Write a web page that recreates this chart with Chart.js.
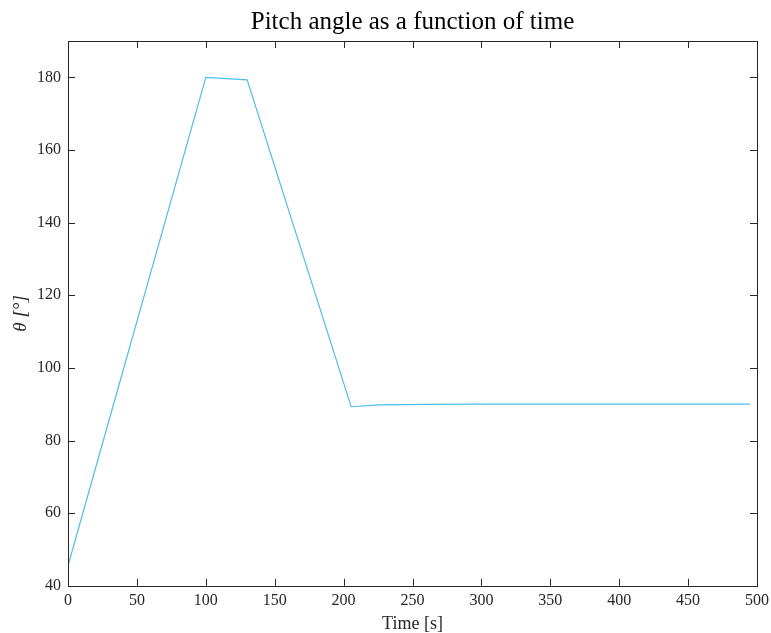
<!DOCTYPE html>
<html>
<head>
<meta charset="utf-8">
<script src="https://cdn.jsdelivr.net/npm/chart.js@4.4.1/dist/chart.umd.min.js"></script>
<style>
  html, body { margin: 0; padding: 0; background: #fff; }
  #wrap { width: 771px; height: 633px; }
</style>
</head>
<body>
<div id="wrap"><canvas id="pitch"></canvas></div>
<script>
var timeS = [0, 100, 130, 205.5, 226, 260, 300, 400, 495];
var pitchDeg = [45.5, 180, 179.3, 89.3, 89.8, 89.95, 90, 90, 90];
var xTicks = [0, 50, 100, 150, 200, 250, 300, 350, 400, 450, 500];
var yTicks = [40, 60, 80, 100, 120, 140, 160, 180];

var serif = "'Liberation Serif', 'DejaVu Serif', serif";

// matlab style box with inward ticks on all four sides
var boxTicks = {
    id: 'boxTicks',
    afterDraw: function(chart){
        var c = chart.ctx, a = chart.chartArea;
        var xs = chart.scales.x, ys = chart.scales.y, len = 7;
        c.save();
        c.strokeStyle = '#262626';
        c.lineWidth = 1;
        c.beginPath();
        xTicks.forEach(function(v){
            var px = Math.round(xs.getPixelForValue(v)) + 0.5;
            c.moveTo(px, a.bottom); c.lineTo(px, a.bottom - len);
            c.moveTo(px, a.top); c.lineTo(px, a.top + len);
        });
        yTicks.forEach(function(v){
            var py = Math.round(ys.getPixelForValue(v)) + 0.5;
            c.moveTo(a.left, py); c.lineTo(a.left + len, py);
            c.moveTo(a.right, py); c.lineTo(a.right - len, py);
        });
        c.stroke();
        c.strokeRect(Math.round(a.left) + 0.5, Math.round(a.top) + 0.5,
            Math.round(a.right - a.left), Math.round(a.bottom - a.top));
        c.restore();
    }
};

new Chart(document.getElementById('pitch'), {
    type: 'scatter',
    data: {
        datasets: [{
            data: timeS.map(function(t, i){ return {x: t, y: pitchDeg[i]}; }),
            showLine: true,
            borderColor: '#4DBEEE',
            borderWidth: 1.2,
            pointRadius: 0,
            tension: 0
        }]
    },
    options: {
        responsive: true,
        maintainAspectRatio: false,
        animation: false,
        layout: { padding: { left: 11, right: 14, top: 0, bottom: 0 } },
        plugins: {
            legend: { display: false },
            tooltip: { enabled: false },
            title: {
                display: true,
                fullSize: false,
                text: 'Pitch angle as a function of time',
                color: '#000',
                font: { family: serif, size: 25, weight: 'normal' },
                padding: { top: 7, bottom: 4 }
            }
        },
        scales: {
            x: {
                type: 'linear', min: 0, max: 500,
                afterBuildTicks: function(s){ s.ticks = xTicks.map(function(v){ return {value: v}; }); },
                afterFit: function(s){ s.paddingRight = 0; },
                grid: { display: false, drawTicks: false, tickLength: 0 },
                border: { display: false },
                ticks: { color: '#262626', font: { family: serif, size: 16 }, padding: 5, maxRotation: 0 },
                title: { display: true, text: 'Time [s]', color: '#262626', font: { family: serif, size: 18, lineHeight: 1 }, padding: { top: 0, bottom: 0 } }
            },
            y: {
                type: 'linear', min: 40, max: 190,
                afterBuildTicks: function(s){ s.ticks = yTicks.map(function(v){ return {value: v}; }); },
                grid: { display: false, drawTicks: false, tickLength: 0 },
                border: { display: false },
                ticks: { color: '#262626', font: { family: serif, size: 16 }, padding: 7 },
                title: { display: true, text: 'θ [°]', color: '#262626', font: { family: serif, size: 19, style: 'italic', lineHeight: 1 }, padding: { top: 0, bottom: 0 } }
            }
        }
    },
    plugins: [boxTicks]
});
</script>
</body>
</html>
